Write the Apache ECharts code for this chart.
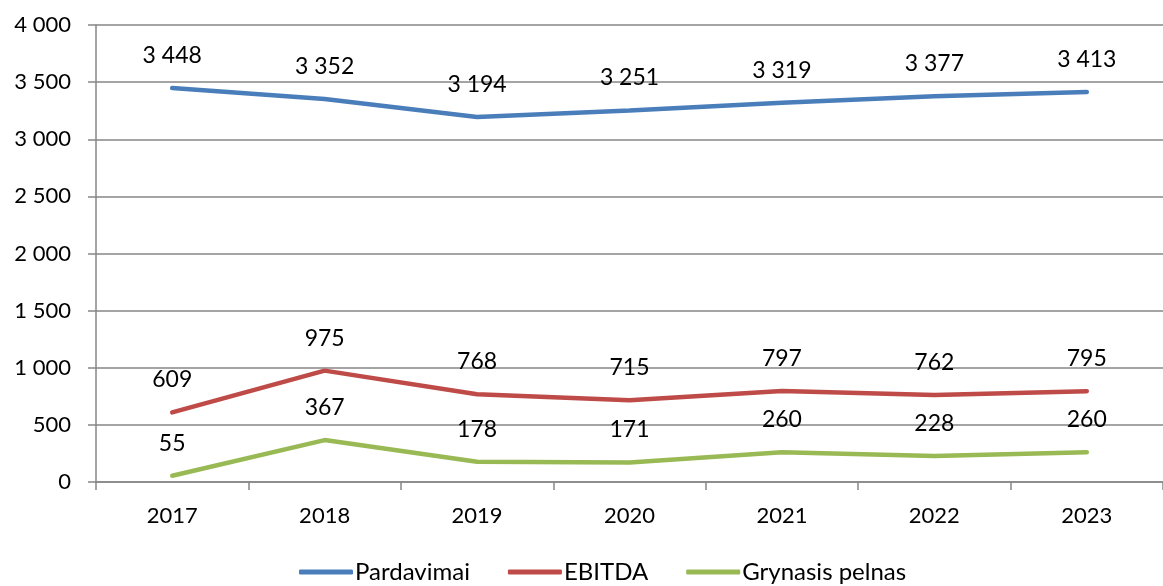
<!DOCTYPE html>
<html><head><meta charset="utf-8">
<script src="https://cdn.jsdelivr.net/npm/echarts@6/dist/echarts.min.js"></script>
<style>html,body{margin:0;padding:0;background:#fff}#c{width:1163px;height:586px}</style>
</head><body><div id="c"></div>
<script>
const categories = ['2017','2018','2019','2020','2021','2022','2023'];
const seriesNames = ['Pardavimai','EBITDA','Grynasis pelnas'];
const pardavimai = [3448,3352,3194,3251,3319,3377,3413];
const ebitda = [609,975,768,715,797,762,795];
const grynasis = [55,367,178,171,260,228,260];
const colors = ['#4A7EBB','#BE4B48','#98B954'];
const FONT = 'Lato';
function fmt(v){ return String(v).replace(/\B(?=(\d{3})+(?!\d))/g,' '); }
const chart = echarts.init(document.getElementById('c'), null, {renderer:'canvas'});
function mk(name, data, color){
  return {name, type:'line', data, symbol:'circle', symbolSize:2, showSymbol:true, color,
    itemStyle:{color:'rgba(0,0,0,0)', borderWidth:0},
    lineStyle:{width:4.5, color, cap:'round'},
    labelLayout:{hideOverlap:false},
    label:{show:true, position:'top', distance:20, color:'#000', fontFamily:FONT, fontSize:23,
      formatter:p=>fmt(p.value)}};
}
chart.setOption({
  animation:false,
  grid:{left:96, top:25, width:1076, height:457, containLabel:false},
  legend:{top:555, left:294, itemWidth:54, itemHeight:5, itemGap:38,
    icon:'roundRect',
    textStyle:{fontFamily:FONT, fontSize:24, color:'#000', padding:[0,0,0,-3]},
    data:seriesNames.map((n,i)=>({name:n, itemStyle:{color:colors[i]}}))},
  xAxis:{type:'category', data:categories, boundaryGap:true,
    axisLine:{lineStyle:{color:'#868686', width:1.5}},
    axisTick:{show:true, length:8, interval:0, lineStyle:{color:'#868686', width:1.5}},
    axisLabel:{fontFamily:FONT, fontSize:22, color:'#000', margin:23}},
  yAxis:{type:'value', min:0, max:4000, interval:500,
    axisLine:{show:true, lineStyle:{color:'#868686', width:1.5}},
    axisTick:{show:true, length:8, lineStyle:{color:'#868686', width:1.5}},
    splitLine:{lineStyle:{color:'#868686', width:1.5}},
    axisLabel:{fontFamily:FONT, fontSize:22, color:'#000', margin:25, formatter:v=>fmt(v)}},
  series:[mk(seriesNames[0], pardavimai, colors[0]), mk(seriesNames[1], ebitda, colors[1]), mk(seriesNames[2], grynasis, colors[2])]
});
</script></body></html>
